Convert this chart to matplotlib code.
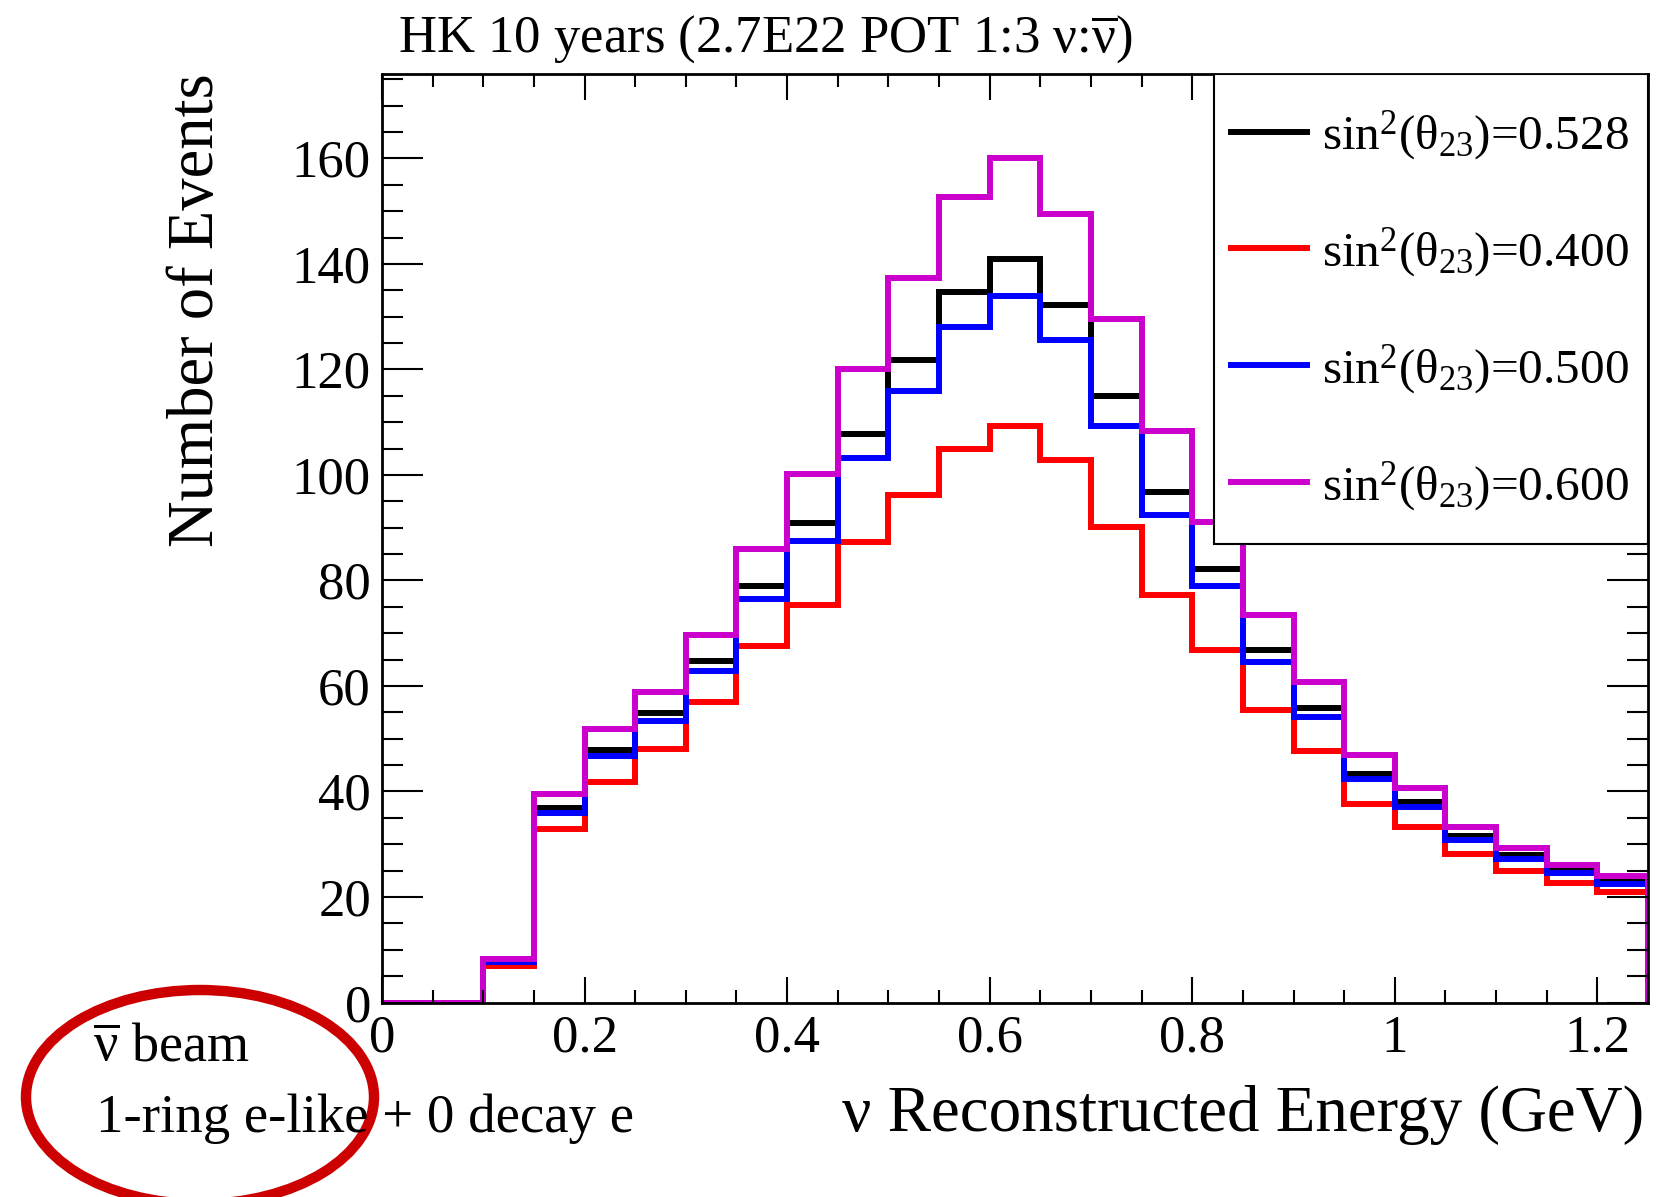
import matplotlib

matplotlib.use("Agg")
import matplotlib.pyplot as plt
import matplotlib.ticker as ticker
from matplotlib.patches import Ellipse, Rectangle

plt.rcParams["font.family"] = ["Liberation Serif", "DejaVu Serif"]
plt.rcParams["mathtext.fontset"] = "custom"
plt.rcParams["mathtext.rm"] = "Liberation Serif"
plt.rcParams["mathtext.it"] = "Liberation Serif"
plt.rcParams["mathtext.bf"] = "Liberation Serif:bold"

# reconstructed energy bins (GeV)
bin_edges = [0.00, 0.05, 0.10, 0.15, 0.20, 0.25, 0.30, 0.35, 0.40, 0.45, 0.50,
             0.55, 0.60, 0.65, 0.70, 0.75, 0.80, 0.85, 0.90, 0.95, 1.00,
             1.05, 1.10, 1.15, 1.20, 1.25]

events_0528 = [0, 0, 7.8, 36.8, 47.9, 54.8, 64.7, 79.0, 90.8, 107.8, 121.7, 134.7,
               141.0, 132.3, 114.9, 96.7, 82.2, 66.8, 55.9, 43.4, 38.0, 31.6, 28.0,
               25.0, 22.8]
events_0400 = [0, 0, 7.0, 32.8, 41.8, 48.0, 57.0, 67.6, 75.4, 87.2, 96.2, 104.9,
               109.2, 102.9, 90.1, 77.2, 66.8, 55.4, 47.6, 37.6, 33.3, 28.2, 25.0,
               22.6, 21.0]
events_0500 = [0, 0, 7.6, 35.9, 46.7, 53.3, 62.9, 76.5, 87.4, 103.2, 116.0, 128.0,
               133.9, 125.5, 109.2, 92.4, 78.9, 64.5, 54.1, 42.3, 37.0, 30.8, 27.2,
               24.5, 22.4]
events_0600 = [0, 0, 8.3, 39.6, 51.8, 58.9, 69.6, 85.9, 100.2, 120.0, 137.4, 152.6,
               160.0, 149.5, 129.6, 108.4, 91.1, 73.5, 60.7, 47.0, 40.6, 33.3, 29.3,
               26.0, 23.9]

series_values = [events_0528, events_0400, events_0500, events_0600]
series_labels = ["0.528", "0.400", "0.500", "0.600"]
series_colors = ["black", "#ff0000", "#0000ff", "#cc00cc"]

x_tick_values = [0, 0.2, 0.4, 0.6, 0.8, 1.0, 1.2]
x_tick_labels = ["0", "0.2", "0.4", "0.6", "0.8", "1", "1.2"]

W, H = 1665, 1197
AX_L, AX_R, AX_T, AX_B = 382, 1648, 74, 1002.5
fig = plt.figure(figsize=(W / 100, H / 100), dpi=100)
ax = fig.add_axes([AX_L / W, 1 - AX_B / H, (AX_R - AX_L) / W, (AX_B - AX_T) / H])


def axes_frac(px, py):
    return (px - AX_L) / (AX_R - AX_L), (AX_B - py) / (AX_B - AX_T)


for values, label, color in zip(series_values, series_labels, series_colors):
    ax.stairs(values, bin_edges, color=color, linewidth=4.3,
              label=r"sin$^{2}$($\theta_{23}$)=" + label)

ax.set_xlim(0, 1.25)
ax.set_ylim(0, 176)
ax.set_xticks(x_tick_values)
ax.set_xticklabels(x_tick_labels)
ax.xaxis.set_minor_locator(ticker.MultipleLocator(0.05))
ax.yaxis.set_major_locator(ticker.MultipleLocator(20))
ax.yaxis.set_minor_locator(ticker.MultipleLocator(5))

for side in ax.spines.values():
    side.set_linewidth(2.0)
ax.tick_params(axis="both", which="both", direction="in", top=True, right=True,
               width=1.5, labelsize=38)
ax.tick_params(axis="x", which="major", length=19, pad=9)
ax.tick_params(axis="x", which="minor", length=9.5)
ax.tick_params(axis="y", which="major", length=29.5, pad=8)
ax.tick_params(axis="y", which="minor", length=15)

# legend box (ROOT style, opaque white over the histograms)
box_x0, box_y0 = axes_frac(1214, 544)
ax.add_patch(Rectangle((box_x0, box_y0), 1 - box_x0, 1 - box_y0,
                       transform=ax.transAxes, facecolor="white",
                       edgecolor="black", linewidth=1.5, zorder=4))
ax.legend(loc="upper left", bbox_to_anchor=axes_frac(1231, 108),
          borderaxespad=0, borderpad=0, frameon=False, fontsize=35.5,
          handlelength=1.54, handletextpad=0.3, labelspacing=1.26)

fig.text(398 / W, 1 - 52 / H, r"HK 10 years (2.7E22 POT 1:3 ν:$\overline{\nu}$)",
         fontsize=38, ha="left", va="baseline")
fig.text(197 / W, 1 - 73 / H, "Number of Events", fontsize=46.5, rotation=90,
         ha="center", va="top")
fig.text(1644 / W, 1 - 1131 / H, "ν Reconstructed Energy (GeV)", fontsize=46.8,
         ha="right", va="baseline")
fig.text(93 / W, 1 - 1061 / H, r"$\overline{\nu}$ beam", fontsize=39,
         ha="left", va="baseline")
fig.text(96 / W, 1 - 1132 / H, "1-ring e-like + 0 decay e", fontsize=39.5,
         ha="left", va="baseline")

fig.add_artist(Ellipse((200 / W, 1 - 1097 / H), 348 / W, 214 / H,
                       transform=fig.transFigure, fill=False,
                       edgecolor="#cc0000", linewidth=7.5))

fig.savefig("out.png", dpi=100)
